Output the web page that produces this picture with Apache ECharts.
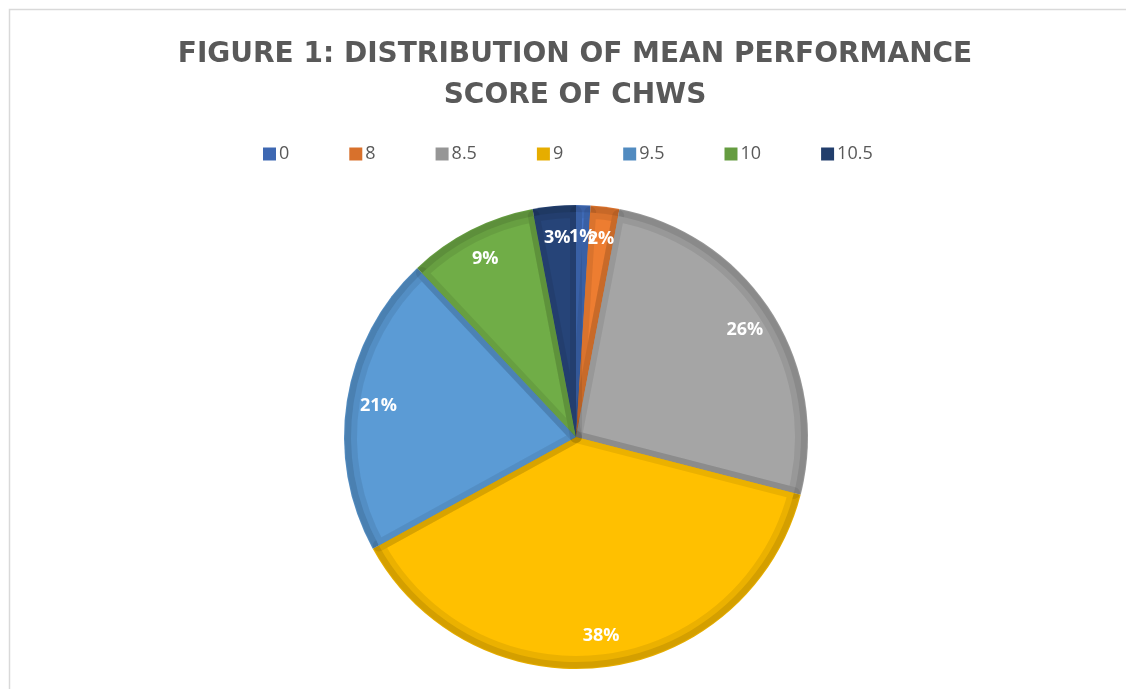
<!DOCTYPE html>
<html>
<head>
<meta charset="utf-8">
<script src="https://cdn.jsdelivr.net/npm/echarts@6/dist/echarts.min.js"></script>
<style>
html,body{margin:0;padding:0;background:#fff;}
#chart{width:1126px;height:689px;}
</style>
</head>
<body>
<div id="chart"></div>
<script>
const categories = ['0', '8', '8.5', '9', '9.5', '10', '10.5'];
const values = [1, 2, 26, 38, 21, 9, 3];
const fillColors = ['#4472C4', '#ED7D31', '#A5A5A5', '#FFC000', '#5B9BD5', '#70AD47', '#264478'];
const edgeColors = ['#3E68B2', '#D8712C', '#969696', '#E6AD00', '#518BC0', '#659C40', '#223E6C'];
const titleText = 'FIGURE 1: DISTRIBUTION OF MEAN PERFORMANCE\nSCORE OF CHWS';

const chart = echarts.init(document.getElementById('chart'), null, {renderer: 'canvas'});
const cx = 576, cy = 437, R = 232;

function mk(colors) {
  return categories.map((c, i) => ({name: c, value: values[i], itemStyle: {color: colors[i]}}));
}

chart.setOption({
  backgroundColor: '#fff',
  animation: false,
  title: {
    text: titleText,
    left: 570,
    textAlign: 'center',
    top: 29,
    textStyle: {
      fontFamily: 'DejaVu Sans',
      fontWeight: 'bold',
      fontSize: 28,
      lineHeight: 41,
      color: '#595959'
    }
  },
  legend: {
    data: categories,
    top: 140,
    left: 258,
    itemWidth: 13,
    itemHeight: 13,
    itemGap: 60,
    icon: 'rect',
    textStyle: {fontFamily: 'Open Sans', fontSize: 18, color: '#595959', padding: [0,0,0,-2]}
  },
  graphic: [{
    type: 'rect',
    silent: true,
    shape: {x: 9.5, y: 9.5, width: 1140, height: 700},
    style: {fill: 'none', stroke: '#D9D9D9', lineWidth: 1.5}
  }],
  series: [
    {
      type: 'pie',
      silent: true,
      center: [cx, cy],
      radius: [0, R],
      startAngle: 90,
      clockwise: true,
      label: {show: false},
      labelLine: {show: false},
      data: mk(edgeColors)
    },
    {
      type: 'pie',
      silent: true,
      center: [cx, cy],
      radius: [0, R - 7],
      startAngle: 90,
      clockwise: true,
      label: {show: false},
      labelLine: {show: false},
      itemStyle: {borderColor: 'rgba(0,0,0,0.08)', borderWidth: 12, borderJoin: 'round'},
      data: mk(fillColors)
    },
    {
      type: 'pie',
      silent: true,
      center: [cx, cy],
      radius: [150, 244],
      startAngle: 90,
      clockwise: true,
      avoidLabelOverlap: false,
      labelLayout: {hideOverlap: false},
      itemStyle: {color: 'rgba(0,0,0,0)'},
      label: {
        show: true,
        position: 'inside',
        formatter: '{d}%',
        color: '#fff',
        fontFamily: 'Open Sans',
        fontWeight: 'bold',
        fontSize: 18
      },
      labelLine: {show: false},
      emphasis: {disabled: true},
      data: categories.map((c, i) => ({name: c, value: values[i]}))
    }
  ]
});
</script>
</body>
</html>
